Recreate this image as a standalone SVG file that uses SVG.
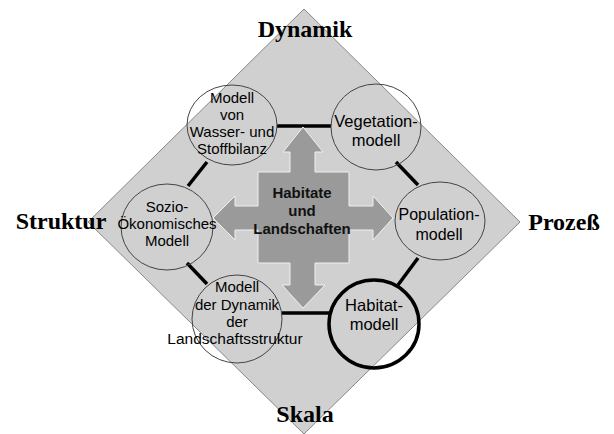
<svg xmlns="http://www.w3.org/2000/svg" width="614" height="434" viewBox="0 0 614 434">
<style>
.axis{font-family:"Liberation Serif","Times New Roman",serif;font-weight:bold;font-size:24px;fill:#000;text-anchor:middle}
.lbl{font-family:"Liberation Sans",Arial,sans-serif;fill:#000;text-anchor:middle}
.ell{fill:none;stroke:#444;stroke-width:1}
.conn{stroke:#000;stroke-width:3.5;fill:none}
.cross{fill:#9a9a9a;stroke:#f0f0f0;stroke-width:1}
.ctr{font-family:"Liberation Sans",Arial,sans-serif;font-weight:bold;font-size:15px;fill:#111;text-anchor:middle}
</style>
<rect width="614" height="434" fill="#fff"/>
<g id="diamond">
<polygon points="304,9 520,222 304,434 88,222" fill="#d0d0d0" stroke="#888" stroke-width="1"/>
</g>
<g id="connectors">
<line class="conn" x1="277" y1="126" x2="331" y2="126"/>
<line class="conn" x1="396" y1="162" x2="418" y2="185"/>
<line class="conn" x1="418" y1="258" x2="398" y2="285"/>
<line class="conn" x1="282" y1="313" x2="329" y2="313"/>
<line class="conn" x1="187" y1="263" x2="207" y2="284"/>
<line class="conn" x1="207" y1="162" x2="188" y2="186"/>
</g>
<g id="center">
<polygon class="cross" points="290,172 290,152 283,152 303,127 323,152 315,152 315,172 349,172 349,206 373,206 373,196 393,218 373,240 373,230 349,230 349,263 315,263 315,285 325,285 303,308 282,285 290,285 290,263 258,263 258,230 235,230 235,240 213,218 235,196 235,206 258,206 258,172"/>
<text class="ctr" x="302" y="198">Habitate</text>
<text class="ctr" x="302" y="216">und</text>
<text class="ctr" x="302" y="234">Landschaften</text>
</g>
<g id="wasser">
<ellipse class="ell" cx="232" cy="125" rx="45" ry="40"/>
<text class="lbl" font-size="15" x="232" y="103">Modell</text>
<text class="lbl" font-size="15" x="232" y="120">von</text>
<text class="lbl" font-size="15" x="232" y="137">Wasser- und</text>
<text class="lbl" font-size="15" x="232" y="154">Stoffbilanz</text>
</g>
<g id="vegetation">
<ellipse class="ell" cx="376" cy="127" rx="45" ry="43"/>
<text class="lbl" font-size="16.5" x="376" y="127">Vegetation-</text>
<text class="lbl" font-size="16.5" x="376" y="146">modell</text>
</g>
<g id="sozio">
<ellipse class="ell" cx="167" cy="227" rx="46" ry="43"/>
<text class="lbl" font-size="15" x="167" y="212">Sozio-</text>
<text class="lbl" font-size="15" x="167" y="229">Ökonomisches</text>
<text class="lbl" font-size="15" x="167" y="246">Modell</text>
</g>
<g id="population">
<ellipse class="ell" cx="440" cy="221" rx="45" ry="39"/>
<text class="lbl" font-size="16" x="439" y="220">Population-</text>
<text class="lbl" font-size="16" x="439" y="240">modell</text>
</g>
<g id="dynamik">
<ellipse class="ell" cx="237" cy="319" rx="45" ry="44"/>
<text class="lbl" font-size="15" x="237" y="292">Modell</text>
<text class="lbl" font-size="15" x="237" y="310">der Dynamik</text>
<text class="lbl" font-size="15" x="237" y="327">der</text>
<text class="lbl" font-size="15.5" x="235" y="344">Landschaftsstruktur</text>
</g>
<g id="habitat">
<ellipse cx="374" cy="324" rx="45" ry="44" fill="none" stroke="#000" stroke-width="3.5"/>
<text class="lbl" font-size="16.5" x="374" y="311">Habitat-</text>
<text class="lbl" font-size="16.5" x="374" y="330">modell</text>
</g>
<g id="axes">
<text class="axis" x="305" y="37">Dynamik</text>
<text class="axis" x="305" y="422">Skala</text>
<text class="axis" x="61" y="229">Struktur</text>
<text class="axis" x="564" y="230">Prozeß</text>
</g>
</svg>
